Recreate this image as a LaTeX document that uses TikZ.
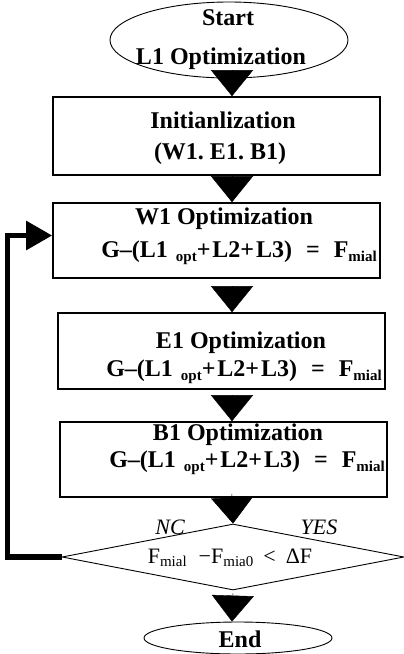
\documentclass[tikz,border=0pt]{standalone}
\usepackage{fontspec}
\setmainfont{Liberation Serif}
\usetikzlibrary{arrows.meta,shapes.geometric,calc}

\tikzset{
  stepbox/.style={draw, line width=1.6pt, minimum width=327pt, minimum height=76pt, inner sep=0pt},
  oval/.style={draw, ellipse, line width=0.9pt, inner sep=0pt},
  decision/.style={draw, diamond, line width=0.9pt, inner sep=0pt},
  boldtxt/.style={font=\fontsize{24}{24}\selectfont\bfseries, inner sep=0pt},
  condtxt/.style={font=\fontsize{22}{22}\selectfont, inner sep=0pt},
  branch/.style={font=\fontsize{22}{22}\selectfont\itshape, inner sep=0pt},
  flow/.style={-{Triangle[length=26pt,width=42pt]}, line width=0.4pt},
  loopback/.style={-{Triangle[length=26pt,width=28pt]}, line width=5.5pt},
}

\newcommand{\sbs}[1]{\raisebox{-0.35ex}{\fontsize{15}{15}\selectfont #1}}
\newcommand{\balance}{G--(L1\hspace{8pt}\sbs{opt}+\hspace{2pt}L2+\hspace{2pt}L3)\hspace{14pt}=\hspace{14pt}F\sbs{mial}}

\begin{document}
\begin{tikzpicture}[x=1pt,y=-1pt]
  \useasboundingbox (0,0) rectangle (404,654);
  \coordinate (axis) at (232,0);

  % start and end terminals
  \node[oval, minimum width=238pt, minimum height=76pt] (start) at (229,40) {};
  \node[boldtxt] (startA) at (228,18) {Start};
  \node[boldtxt] (startB) at (221,59) {L1 Optimization};

  % process boxes
  \node[stepbox, minimum height=78pt] (init) at (216.5,136) {};
  \node[boldtxt] (initA) at (223,120) {Initianlization};
  \node[boldtxt] (initB) at (220,154) {(W1.\hspace{6pt}E1.\hspace{6pt}B1)};

  \node[stepbox, minimum height=75pt] (w1) at (216.5,240.5) {};
  \node[boldtxt] (w1A) at (224,219) {W1 Optimization};
  \node[boldtxt, anchor=east] (w1B) at (377,253) {\balance};

  \node[stepbox] (e1) at (221.5,351) {};
  \node[boldtxt] (e1A) at (241,343) {E1 Optimization};
  \node[boldtxt, anchor=east] (e1B) at (382,372) {\balance};

  \node[stepbox, minimum height=75pt] (b1) at (223.5,459.5) {};
  \node[boldtxt] (b1A) at (238,435) {B1 Optimization};
  \node[boldtxt, anchor=east] (b1B) at (385,463) {\balance};

  % convergence test
  \node[decision, minimum width=342pt, minimum height=66pt] (test) at (233,557) {};
  \node[condtxt] (testT) at (230,558) {F\sbs{mial}\hspace{12pt}−F\sbs{mia0}\hspace{10pt}<\hspace{10pt}ΔF};
  \node[branch] (no) at (170,527) {NC};
  \node[branch] (yes) at (319,527) {YES};

  \node[oval, minimum width=188pt, minimum height=32pt] (end) at (238,638) {};
  \node[boldtxt] (endT) at (240,639) {End};

  % main flow
  \draw[flow] (start.south -| axis) -- (init.north -| axis);
  \draw[flow, shorten <=2pt] (init.south -| axis) -- (w1.north -| axis);
  \draw[flow, shorten <=8pt] (w1.south -| axis) -- (e1.north -| axis);
  \draw[flow, shorten <=6pt] (e1.south -| axis) -- (b1.north -| axis);
  \draw[flow, shorten <=4pt] (b1.south -| axis) -- (test.north);
  \draw[flow, shorten <=3pt] (test.south) -- (end.north -| axis);

  % repeat branch back to W1
  \draw[loopback] (test.west) -- ++(-54,0) |- ([yshift=5pt]w1.west);
\end{tikzpicture}
\end{document}
